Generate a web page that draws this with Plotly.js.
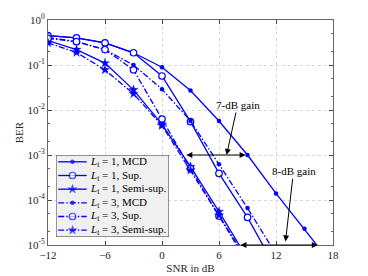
<!DOCTYPE html>
<html>
<head>
<meta charset="utf-8">
<script src="https://cdn.plot.ly/plotly-3.0.1.min.js"></script>
<style>html,body{margin:0;padding:0;background:#fff;}#chart{width:368px;height:276px;}</style>
</head>
<body>
<div id="chart"></div>
<script>
// SNR values (dB)
const snr = [-12, -9, -6, -3, 0, 3, 6, 9, 12, 15, 18];

// BER series
const berL1MCD  = [0.45, 0.40, 0.31, 0.187, 0.089, 0.027, 0.0057, 0.001, 1.4e-4, 2.3e-5, 3.5e-6];
const berL1Sup  = [0.45, 0.40, 0.31, 0.187, 0.057, 0.0055, 3.9e-4, 4.1e-5, 3.0e-6];
const berL1Semi = [0.35, 0.22, 0.11, 0.028, 0.0048, 5.5e-4, 5.5e-5, 5.0e-6];
const berL3MCD  = [0.41, 0.33, 0.22, 0.10, 0.029, 0.0057, 6.2e-4, 6.6e-5, 6.3e-6];
const berL3Sup  = [0.39, 0.33, 0.22, 0.078, 0.0063, 5.0e-4, 4.4e-5, 4.0e-6];
const berL3Semi = [0.31, 0.19, 0.078, 0.023, 0.0045, 4.6e-4, 4.6e-5, 4.5e-6];

const seriesNames = [
  '<i>L</i><sub>t</sub> = 1, MCD',
  '<i>L</i><sub>t</sub> = 1, Sup.',
  '<i>L</i><sub>t</sub> = 1, Semi-sup.',
  '<i>L</i><sub>t</sub> = 3, MCD',
  '<i>L</i><sub>t</sub> = 3, Sup.',
  '<i>L</i><sub>t</sub> = 3, Semi-sup.'
];

// tick labels
const xTicks = [-12, -6, 0, 6, 12, 18];
const yTickVals = [1, 0.1, 0.01, 0.001, 1e-4, 1e-5];
const yTickText = ['10<sup>0</sup>', '10<sup>-1</sup>', '10<sup>-2</sup>', '10<sup>-3</sup>', '10<sup>-4</sup>', '10<sup>-5</sup>'];

const blue = '#0000ff';
const dashdot = '6px,2px,1.5px,2px';
const markers = {
  dot:    {symbol: 'circle', size: 4.5, color: blue, line: {width: 0}},
  circle: {symbol: 'circle', size: 6.5, color: '#ffffff', line: {color: blue, width: 1.2}},
  star:   {symbol: 'star', size: 7, color: blue, line: {color: blue, width: 0.3}}
};
const styles = [
  ['solid', markers.dot], ['solid', markers.circle], ['solid', markers.star],
  [dashdot, markers.dot], [dashdot, markers.circle], [dashdot, markers.star]
];
const seriesY = [berL1MCD, berL1Sup, berL1Semi, berL3MCD, berL3Sup, berL3Semi];

const data = seriesY.map((y, i) => ({
  x: snr.slice(0, y.length), y: y, name: seriesNames[i], type: 'scatter', mode: 'lines+markers',
  line: {color: blue, width: 1.3, dash: styles[i][0]}, marker: styles[i][1], showlegend: false,
  xaxis: 'x', yaxis: 'y'
}));

// custom compact legend (on an overlay axis with unit range)
const nRows = seriesNames.length;
const legSample = [0.02, 0.146, 0.272];
const serif = 'Liberation Serif';
seriesNames.forEach((nm, i) => {
  const yc = 1 - (i + 0.5) / nRows;
  data.push({
    x: legSample, y: [yc, yc, yc], type: 'scatter', mode: 'lines+markers',
    line: {color: blue, width: 1.3, dash: styles[i][0]},
    marker: Object.assign({}, styles[i][1], {size: [0, styles[i][1].size, 0]}),
    showlegend: false, xaxis: 'x2', yaxis: 'y2', hoverinfo: 'skip'
  });
});

const arrowCfg = {showarrow: true, arrowcolor: '#000', arrowwidth: 1, arrowhead: 2, arrowsize: 1.2, standoff: 0, startstandoff: 0};
const legAnn = seriesNames.map((nm, i) => ({
  x: 0.283, y: 1 - (i + 0.5) / nRows, xref: 'x2', yref: 'y2', xanchor: 'left', yanchor: 'middle',
  text: nm, showarrow: false, font: {family: serif, size: 11, color: '#000'}
}));

const layout = {
  width: 368, height: 276,
  margin: {l: 48, r: 35, t: 20, b: 31},
  paper_bgcolor: '#fff', plot_bgcolor: '#fff',
  font: {family: serif, size: 11, color: '#262626'},
  showlegend: false,
  xaxis: {
    range: [-12, 18], tickvals: xTicks, ticks: 'inside', ticklen: 4,
    showline: true, linecolor: '#666', linewidth: 1, mirror: 'allticks',
    showgrid: true, gridcolor: '#d8d8d8', griddash: 'dot', zeroline: false,
    tickfont: {family: serif, size: 11, color: '#262626'},
    title: {text: 'SNR in dB', font: {family: serif, size: 11, color: '#262626'}, standoff: 4}
  },
  yaxis: {
    type: 'log', range: [-5, 0], tickvals: yTickVals, ticktext: yTickText,
    ticks: 'inside', ticklen: 4,
    minor: {ticks: 'inside', ticklen: 2, showgrid: false, tickcolor: '#666'},
    showline: true, linecolor: '#666', linewidth: 1, mirror: 'allticks',
    showgrid: true, gridcolor: '#d8d8d8', griddash: 'dot', zeroline: false,
    tickfont: {family: serif, size: 11, color: '#262626'},
    title: {text: 'BER', font: {family: serif, size: 11, color: '#262626'}, standoff: 1}
  },
  xaxis2: {domain: [0.028, 0.4246], range: [0, 1], visible: false, fixedrange: true, anchor: 'y2'},
  yaxis2: {domain: [0.0356, 0.4], range: [0, 1], visible: false, fixedrange: true, anchor: 'x2'},
  shapes: [
    {type: 'rect', xref: 'x2', yref: 'y2', x0: 0, x1: 1, y0: 0, y1: 1,
     fillcolor: '#f0f0f0', line: {color: '#333', width: 1}, layer: 'below'}
  ],
  annotations: [
    Object.assign({x: 8.8, y: -3, ax: 2.4, ay: -3, xref: 'x', yref: 'y', axref: 'x', ayref: 'y', text: '', arrowside: 'end+start'}, arrowCfg),
    Object.assign({x: 16.4, y: -5, ax: 8.1, ay: -5, xref: 'x', yref: 'y', axref: 'x', ayref: 'y', text: '', arrowside: 'end+start'}, arrowCfg),
    Object.assign({x: 6.8, y: -3, ax: 11, ay: -50, xref: 'x', yref: 'y', text: '7-dB gain', font: {family: serif, size: 11, color: '#000'}}, arrowCfg),
    Object.assign({x: 13.0, y: -4.92, ax: 8, ay: -70, xref: 'x', yref: 'y', text: '8-dB gain', font: {family: serif, size: 11, color: '#000'}}, arrowCfg)
  ].concat(legAnn)
};

Plotly.newPlot('chart', data, layout, {staticPlot: true, displayModeBar: false});
</script>
</body>
</html>
